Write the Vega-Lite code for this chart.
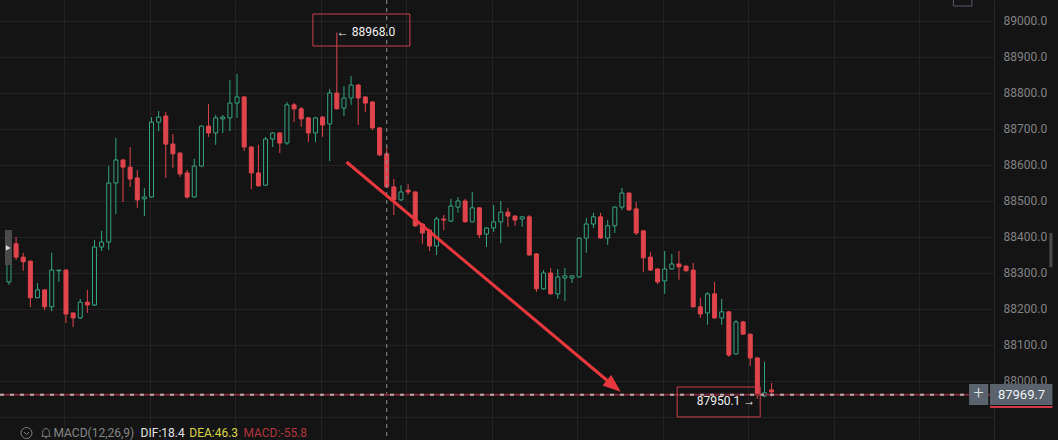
{
  "$schema": "https://vega.github.io/schema/vega-lite/v6.json",
  "width": 994,
  "height": 440,
  "autosize": "none",
  "padding": {"left": 0, "top": 0, "bottom": 0, "right": 64},
  "background": "#141414",
  "config": {
    "view": {"stroke": null},
    "text": {"font": "Roboto"},
    "axis": {"labelFont": "Roboto"}
  },
  "datasets": {
    "candles": [
      {"i":0,"o":88275,"h":88364,"l":88267,"c":88350},
      {"i":1,"o":88381,"h":88400,"l":88336,"c":88344},
      {"i":2,"o":88344,"h":88356,"l":88306,"c":88331},
      {"i":3,"o":88333,"h":88333,"l":88205,"c":88231},
      {"i":4,"o":88231,"h":88272,"l":88231,"c":88253},
      {"i":5,"o":88253,"h":88253,"l":88197,"c":88206},
      {"i":6,"o":88206,"h":88356,"l":88194,"c":88308},
      {"i":7,"o":88306,"h":88308,"l":88275,"c":88308},
      {"i":8,"o":88308,"h":88310,"l":88161,"c":88186},
      {"i":9,"o":88189,"h":88189,"l":88150,"c":88175},
      {"i":10,"o":88175,"h":88228,"l":88172,"c":88219},
      {"i":11,"o":88219,"h":88253,"l":88189,"c":88211},
      {"i":12,"o":88211,"h":88392,"l":88208,"c":88372},
      {"i":13,"o":88372,"h":88417,"l":88361,"c":88386},
      {"i":14,"o":88386,"h":88597,"l":88364,"c":88550},
      {"i":15,"o":88550,"h":88675,"l":88464,"c":88614},
      {"i":16,"o":88614,"h":88616,"l":88497,"c":88594},
      {"i":17,"o":88594,"h":88650,"l":88539,"c":88561},
      {"i":18,"o":88564,"h":88586,"l":88481,"c":88503},
      {"i":19,"o":88506,"h":88536,"l":88458,"c":88511},
      {"i":20,"o":88511,"h":88733,"l":88509,"c":88719},
      {"i":21,"o":88719,"h":88750,"l":88694,"c":88733},
      {"i":22,"o":88736,"h":88747,"l":88564,"c":88658},
      {"i":23,"o":88658,"h":88686,"l":88592,"c":88631},
      {"i":24,"o":88633,"h":88635,"l":88567,"c":88575},
      {"i":25,"o":88578,"h":88586,"l":88506,"c":88511},
      {"i":26,"o":88511,"h":88617,"l":88509,"c":88597},
      {"i":27,"o":88597,"h":88710,"l":88595,"c":88708},
      {"i":28,"o":88708,"h":88769,"l":88678,"c":88689},
      {"i":29,"o":88689,"h":88739,"l":88656,"c":88731},
      {"i":30,"o":88728,"h":88739,"l":88689,"c":88733},
      {"i":31,"o":88731,"h":88836,"l":88694,"c":88772},
      {"i":32,"o":88772,"h":88853,"l":88731,"c":88789},
      {"i":33,"o":88789,"h":88791,"l":88639,"c":88650},
      {"i":34,"o":88650,"h":88652,"l":88533,"c":88578},
      {"i":35,"o":88578,"h":88656,"l":88540,"c":88542},
      {"i":36,"o":88544,"h":88678,"l":88542,"c":88672},
      {"i":37,"o":88672,"h":88691,"l":88650,"c":88689},
      {"i":38,"o":88689,"h":88691,"l":88633,"c":88661},
      {"i":39,"o":88661,"h":88775,"l":88656,"c":88767},
      {"i":40,"o":88767,"h":88772,"l":88719,"c":88756},
      {"i":41,"o":88756,"h":88761,"l":88706,"c":88728},
      {"i":42,"o":88731,"h":88733,"l":88664,"c":88689},
      {"i":43,"o":88689,"h":88733,"l":88664,"c":88731},
      {"i":44,"o":88733,"h":88736,"l":88678,"c":88711},
      {"i":45,"o":88714,"h":88811,"l":88611,"c":88800},
      {"i":46,"o":88800,"h":88968,"l":88754,"c":88756},
      {"i":47,"o":88758,"h":88819,"l":88736,"c":88786},
      {"i":48,"o":88786,"h":88847,"l":88767,"c":88822},
      {"i":49,"o":88822,"h":88825,"l":88711,"c":88786},
      {"i":50,"o":88789,"h":88791,"l":88747,"c":88772},
      {"i":51,"o":88775,"h":88777,"l":88697,"c":88703},
      {"i":52,"o":88703,"h":88705,"l":88625,"c":88628},
      {"i":53,"o":88631,"h":88653,"l":88536,"c":88539},
      {"i":54,"o":88539,"h":88561,"l":88461,"c":88503},
      {"i":55,"o":88503,"h":88544,"l":88500,"c":88525},
      {"i":56,"o":88530,"h":88547,"l":88517,"c":88525},
      {"i":57,"o":88525,"h":88527,"l":88428,"c":88431},
      {"i":58,"o":88436,"h":88438,"l":88381,"c":88411},
      {"i":59,"o":88419,"h":88421,"l":88361,"c":88375},
      {"i":60,"o":88375,"h":88456,"l":88350,"c":88450},
      {"i":61,"o":88450,"h":88461,"l":88419,"c":88447},
      {"i":62,"o":88444,"h":88506,"l":88442,"c":88486},
      {"i":63,"o":88483,"h":88511,"l":88467,"c":88500},
      {"i":64,"o":88500,"h":88506,"l":88440,"c":88442},
      {"i":65,"o":88442,"h":88525,"l":88440,"c":88481},
      {"i":66,"o":88481,"h":88483,"l":88397,"c":88406},
      {"i":67,"o":88408,"h":88427,"l":88372,"c":88425},
      {"i":68,"o":88425,"h":88489,"l":88414,"c":88442},
      {"i":69,"o":88442,"h":88500,"l":88383,"c":88469},
      {"i":70,"o":88469,"h":88481,"l":88428,"c":88458},
      {"i":71,"o":88458,"h":88460,"l":88431,"c":88447},
      {"i":72,"o":88450,"h":88458,"l":88428,"c":88456},
      {"i":73,"o":88456,"h":88461,"l":88348,"c":88350},
      {"i":74,"o":88353,"h":88355,"l":88247,"c":88256},
      {"i":75,"o":88256,"h":88308,"l":88254,"c":88300},
      {"i":76,"o":88300,"h":88314,"l":88240,"c":88242},
      {"i":77,"o":88242,"h":88311,"l":88228,"c":88289},
      {"i":78,"o":88286,"h":88314,"l":88222,"c":88292},
      {"i":79,"o":88286,"h":88293,"l":88272,"c":88292},
      {"i":80,"o":88289,"h":88399,"l":88287,"c":88397},
      {"i":81,"o":88397,"h":88453,"l":88356,"c":88436},
      {"i":82,"o":88436,"h":88467,"l":88425,"c":88456},
      {"i":83,"o":88456,"h":88467,"l":88395,"c":88397},
      {"i":84,"o":88397,"h":88447,"l":88378,"c":88431},
      {"i":85,"o":88431,"h":88485,"l":88411,"c":88483},
      {"i":86,"o":88483,"h":88536,"l":88475,"c":88522},
      {"i":87,"o":88522,"h":88524,"l":88473,"c":88475},
      {"i":88,"o":88478,"h":88497,"l":88405,"c":88411},
      {"i":89,"o":88417,"h":88419,"l":88303,"c":88342},
      {"i":90,"o":88344,"h":88358,"l":88306,"c":88308},
      {"i":91,"o":88311,"h":88313,"l":88269,"c":88275},
      {"i":92,"o":88278,"h":88361,"l":88242,"c":88311},
      {"i":93,"o":88311,"h":88353,"l":88309,"c":88325},
      {"i":94,"o":88325,"h":88361,"l":88281,"c":88317},
      {"i":95,"o":88319,"h":88321,"l":88304,"c":88306},
      {"i":96,"o":88308,"h":88328,"l":88204,"c":88206},
      {"i":97,"o":88206,"h":88231,"l":88175,"c":88186},
      {"i":98,"o":88189,"h":88247,"l":88156,"c":88242},
      {"i":99,"o":88242,"h":88275,"l":88173,"c":88175},
      {"i":100,"o":88175,"h":88228,"l":88156,"c":88192},
      {"i":101,"o":88192,"h":88194,"l":88067,"c":88072},
      {"i":102,"o":88075,"h":88169,"l":88073,"c":88164},
      {"i":103,"o":88164,"h":88167,"l":88128,"c":88130},
      {"i":104,"o":88130,"h":88132,"l":88042,"c":88064},
      {"i":105,"o":88064,"h":88066,"l":87950.1,"c":87961},
      {"i":106,"o":87958,"h":88053,"l":87955,"c":87967},
      {"i":107,"o":87975,"h":87994,"l":87956,"c":87969.7}
    ]
  },
  "layer": [
    {
      "data": {"name": "candles"},
      "mark": {"type": "rule", "strokeWidth": 1},
      "encoding": {
        "x": {"field": "i", "type": "quantitative", "title": null,
          "scale": {"domain": [-0.556, 137.5], "nice": false, "zero": false},
          "axis": {"orient": "bottom", "values": [7.72, 19.72, 31.72, 43.72, 55.72, 67.72, 79.72, 91.72, 103.72, 115.72, 127.72],
            "tickCount": 40,
            "grid": true, "gridColor": "#222222", "gridWidth": 1, "labels": false, "ticks": false, "domain": false, "title": null}},
        "y": {"field": "l", "type": "quantitative", "title": null,
          "scale": {"domain": [87836, 89058.3], "nice": false, "zero": false},
          "axis": {"orient": "right", "values": [87900, 88000, 88100, 88200, 88300, 88400, 88500, 88600, 88700, 88800, 88900, 89000],
            "tickCount": 40,
            "format": ".1f", "labelExpr": "datum.value < 87950 ? '' : datum.label",
            "labelOverlap": false, "labelBound": false,
            "grid": true, "gridColor": "#222222", "gridWidth": 1, "ticks": false, "tickSize": 0,
            "domain": true, "domainColor": "#262626", "labelPadding": 9, "labelColor": "#828282",
            "labelFontSize": 12, "labelFont": "Roboto", "title": null}},
        "y2": {"field": "h"},
        "color": {"condition": {"test": "datum.c > datum.o", "value": "#35a383"}, "value": "#e0454d"}
      }
    },
    {
      "data": {"name": "candles"},
      "mark": {"type": "bar", "size": 4, "strokeWidth": 1},
      "encoding": {
        "x": {"field": "i", "type": "quantitative", "title": null},
        "y": {"field": "o", "type": "quantitative", "title": null},
        "y2": {"field": "c"},
        "fill": {"condition": {"test": "datum.c > datum.o", "value": "#141414"}, "value": "#e0454d"},
        "stroke": {"condition": {"test": "datum.c > datum.o", "value": "#35a383"}, "value": "#e0454d"}
      }
    },
    {
      "data": {"values": [{"x": 53}]},
      "mark": {"type": "rule", "stroke": "#8f8f8f", "strokeDash": [4, 4], "strokeWidth": 1},
      "encoding": {"x": {"field": "x", "type": "quantitative", "title": null}}
    },
    {
      "data": {"values": [{"p": 87962}]},
      "mark": {"type": "rule", "stroke": "#7a2a35", "strokeWidth": 2},
      "encoding": {"y": {"field": "p", "type": "quantitative", "title": null}}
    },
    {
      "data": {"values": [{"p": 87962}]},
      "mark": {"type": "rule", "stroke": "#b8a9ac", "strokeWidth": 2, "strokeDash": [4, 6]},
      "encoding": {"y": {"field": "p", "type": "quantitative", "title": null}}
    },
    {
      "data": {"values": [{"i1": 47.36, "p1": 88608.3, "i2": 84.86, "p2": 87986}]},
      "mark": {"type": "rule", "stroke": "#e8383d", "strokeWidth": 3},
      "encoding": {
        "x": {"field": "i1", "type": "quantitative", "title": null},
        "y": {"field": "p1", "type": "quantitative", "title": null},
        "x2": {"field": "i2"},
        "y2": {"field": "p2"}
      }
    },
    {
      "data": {"values": [{"i": 84.86, "p": 87986}]},
      "mark": {"type": "point", "shape": "M1,0L-1,-0.75L-1,0.75Z", "size": 324, "angle": 39.7, "filled": true, "fill": "#e8383d", "opacity": 1, "strokeWidth": 0},
      "encoding": {
        "x": {"field": "i", "type": "quantitative", "title": null},
        "y": {"field": "p", "type": "quantitative", "title": null}
      }
    },
    {
      "data": {"values": [
        {"i1": 42.64, "i2": 56.25, "p1": 89019.4, "p2": 88930.5},
        {"i1": 93.75, "i2": 105.4, "p1": 87983.2, "p2": 87900.0}
      ]},
      "mark": {"type": "rect", "fill": null, "stroke": "#c8414a", "strokeWidth": 1},
      "encoding": {
        "x": {"field": "i1", "type": "quantitative", "title": null},
        "x2": {"field": "i2"},
        "y": {"field": "p1", "type": "quantitative", "title": null},
        "y2": {"field": "p2"}
      }
    },
    {
      "data": {"values": [
        {"i": 50.1, "p": 88969.4, "t": "← 88968.0"},
        {"i": 100.6, "p": 87944.5, "t": "87950.1 →"}
      ]},
      "mark": {"type": "text", "fontSize": 12, "color": "#f2f2f2", "align": "center", "baseline": "middle", "font": "Roboto"},
      "encoding": {
        "x": {"field": "i", "type": "quantitative", "title": null},
        "y": {"field": "p", "type": "quantitative", "title": null},
        "text": {"field": "t"}
      }
    },
    {
      "data": {"values": [
        {"i1": 137.64, "i2": 146.4, "p1": 87991.5, "p2": 87933.2, "k": "label"},
        {"i1": 134.7, "i2": 137.4, "p1": 87991.5, "p2": 87933.2, "k": "plus"}
      ]},
      "mark": {"type": "rect", "fill": "#59626d", "stroke": null},
      "encoding": {
        "x": {"field": "i1", "type": "quantitative", "title": null},
        "x2": {"field": "i2"},
        "y": {"field": "p1", "type": "quantitative", "title": null},
        "y2": {"field": "p2"}
      }
    },
    {
      "data": {"values": [{"i1": 137.64, "i2": 146.4, "p": 87927.7}]},
      "mark": {"type": "rule", "stroke": "#d03a44", "strokeWidth": 2},
      "encoding": {
        "x": {"field": "i1", "type": "quantitative", "title": null},
        "x2": {"field": "i2"},
        "y": {"field": "p", "type": "quantitative", "title": null}
      }
    },
    {
      "data": {"values": [{"i": 138.75, "p": 87962, "t": "87969.7"}]},
      "mark": {"type": "text", "color": "#eef2f5", "baseline": "middle", "align": "left", "fontSize": 13, "font": "Roboto"},
      "encoding": {
        "x": {"field": "i", "type": "quantitative", "title": null},
        "y": {"field": "p", "type": "quantitative", "title": null},
        "text": {"field": "t"}
      }
    },
    {
      "data": {"values": [{"i": 136.05, "p": 87963, "t": "+"}]},
      "mark": {"type": "text", "color": "#dfe4e8", "baseline": "middle", "align": "center", "fontSize": 18, "fontWeight": 300, "font": "Roboto"},
      "encoding": {
        "x": {"field": "i", "type": "quantitative", "title": null},
        "y": {"field": "p", "type": "quantitative", "title": null},
        "text": {"field": "t"}
      }
    },
    {
      "data": {"values": [
        {"i1": -0.556, "i2": 0.417, "p1": 88419.4, "p2": 88322.1},
        {"i1": 145.97, "i2": 146.4, "p1": 88411, "p2": 88316}
      ]},
      "mark": {"type": "rect", "fill": "#4a4a4a"},
      "encoding": {
        "x": {"field": "i1", "type": "quantitative", "title": null},
        "x2": {"field": "i2"},
        "y": {"field": "p1", "type": "quantitative", "title": null},
        "y2": {"field": "p2"}
      }
    },
    {
      "data": {"values": [{"i": -0.1, "p": 88369.7}]},
      "mark": {"type": "point", "shape": "triangle-right", "size": 30, "filled": true, "fill": "#dddddd", "opacity": 1},
      "encoding": {
        "x": {"field": "i", "type": "quantitative", "title": null},
        "y": {"field": "p", "type": "quantitative", "title": null}
      }
    },
    {
      "data": {"values": [{"i1": 132.5, "i2": 135.1, "p1": 89069.4, "p2": 89041.6}]},
      "mark": {"type": "rect", "fill": null, "stroke": "#555a66", "strokeWidth": 1},
      "encoding": {
        "x": {"field": "i1", "type": "quantitative", "title": null},
        "x2": {"field": "i2"},
        "y": {"field": "p1", "type": "quantitative", "title": null},
        "y2": {"field": "p2"}
      }
    },
    {
      "data": {"values": [
        {"i": 2.46, "p": 87855.4, "s": "circle"},
        {"i": 2.46, "p": 87855.4, "s": "M-0.45,-0.2L0,0.3L0.45,-0.2"},
        {"i": 5.2, "p": 87855.4, "s": "M-0.6,0.45L-0.6,-0.1C-0.6,-0.55 -0.3,-0.8 0,-0.8C0.3,-0.8 0.6,-0.55 0.6,-0.1L0.6,0.45L0.8,0.6L-0.8,0.6Z M-0.2,0.85L0.2,0.85"}
      ]},
      "mark": {"type": "point", "filled": false, "stroke": "#7c7c7c", "strokeWidth": 1, "size": 121, "opacity": 1},
      "encoding": {
        "x": {"field": "i", "type": "quantitative", "title": null},
        "y": {"field": "p", "type": "quantitative", "title": null},
        "shape": {"field": "s", "type": "nominal", "scale": null}
      }
    },
    {
      "data": {"values": [
        {"i": 6.25, "p": 87856, "t": "MACD(12,26,9)", "col": "#858585"},
        {"i": 18.47, "p": 87856, "t": "DIF:18.4", "col": "#e2e2e2"},
        {"i": 25.3, "p": 87856, "t": "DEA:46.3", "col": "#d9d63c"},
        {"i": 32.9, "p": 87856, "t": "MACD:-55.8", "col": "#b0343e"}
      ]},
      "mark": {"type": "text", "fontSize": 12, "align": "left", "baseline": "middle", "font": "Roboto"},
      "encoding": {
        "x": {"field": "i", "type": "quantitative", "title": null},
        "y": {"field": "p", "type": "quantitative", "title": null},
        "text": {"field": "t"},
        "color": {"field": "col", "type": "nominal", "scale": null}
      }
    }
  ]
}
